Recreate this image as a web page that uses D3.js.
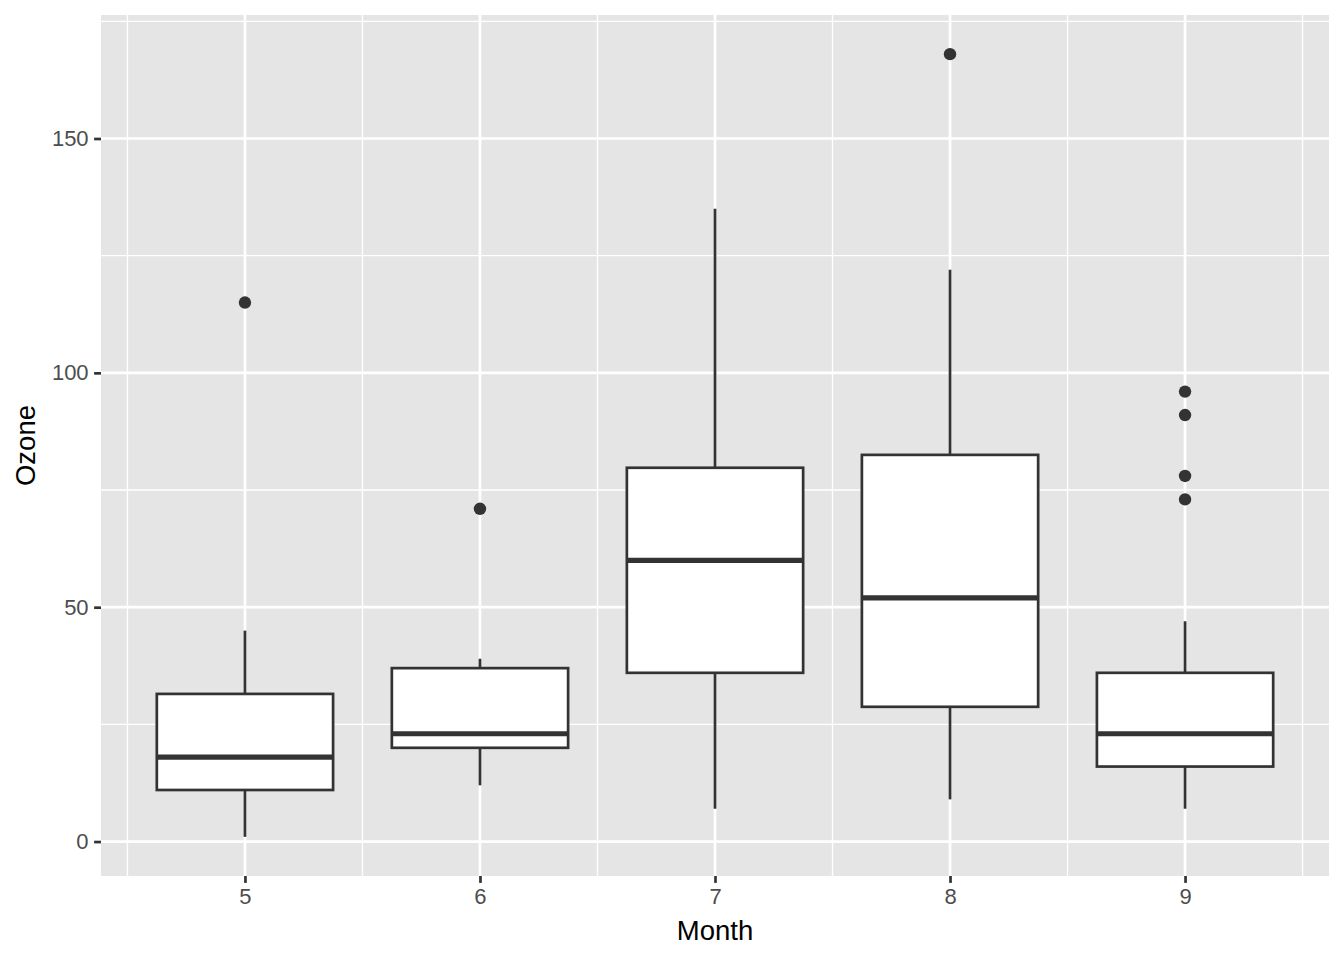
<!DOCTYPE html>
<html><head><meta charset="utf-8">
<script src="https://cdn.jsdelivr.net/npm/d3@7"></script>
<style>body{margin:0;background:#fff}svg{display:block}text{font-family:"Liberation Sans",Arial,Helvetica,sans-serif}</style>
</head><body>
<svg id="c" width="1344" height="960"></svg>
<script>
const months = [5, 6, 7, 8, 9];
const lowerWhisker = [1, 12, 7, 9, 7];
const q1 = [11, 20, 36, 28.75, 16];
const medians = [18, 23, 60, 52, 23];
const q3 = [31.5, 37, 79.75, 82.5, 36];
const upperWhisker = [45, 39, 135, 122, 47];
const outliers = [[115], [71], [], [168], [96, 91, 78, 73]];
const yTicks = [0, 50, 100, 150];
const yMinor = [25, 75, 125, 175];
const xMinor = [4.5, 5.5, 6.5, 7.5, 8.5, 9.5];

const svg = d3.select("#c");
const L = 101, R = 1329, T = 15, B = 876;
const allY = lowerWhisker.concat(upperWhisker, outliers.flat());
const yMin = d3.min(allY), yMax = d3.max(allY);
const yPad = (yMax - yMin) * 0.05;
const boxW = 0.75;
const xLo = d3.min(months) - boxW / 2, xHi = d3.max(months) + boxW / 2;
const xPad = (xHi - xLo) * 0.05;
const x = d3.scaleLinear().domain([xLo - xPad, xHi + xPad]).range([L, R]);
const y = d3.scaleLinear().domain([yMin - yPad, yMax + yPad]).range([B, T]);

svg.append("rect").attr("x", L).attr("y", T).attr("width", R - L).attr("height", B - T).attr("fill", "#EBEBEB").attr("fill", "#E5E5E5");
const g = svg.append("g");
g.selectAll(".ymin").data(yMinor).join("line").attr("x1", L).attr("x2", R)
  .attr("y1", d => y(d)).attr("y2", d => y(d)).attr("stroke", "#fff").attr("stroke-width", 1.35);
g.selectAll(".xmin").data(xMinor).join("line").attr("y1", T).attr("y2", B)
  .attr("x1", d => x(d)).attr("x2", d => x(d)).attr("stroke", "#fff").attr("stroke-width", 1.35);
g.selectAll(".ymaj").data(yTicks).join("line").attr("x1", L).attr("x2", R)
  .attr("y1", d => y(d)).attr("y2", d => y(d)).attr("stroke", "#fff").attr("stroke-width", 2.7);
g.selectAll(".xmaj").data(months).join("line").attr("y1", T).attr("y2", B)
  .attr("x1", d => x(d)).attr("x2", d => x(d)).attr("stroke", "#fff").attr("stroke-width", 2.7);

const col = "#333333";
const data = months.map((m, i) => ({m, lo: lowerWhisker[i], q1: q1[i], med: medians[i], q3: q3[i], hi: upperWhisker[i], out: outliers[i]}));
const bx = svg.append("g");
const hw = x(boxW / 2) - x(0);
data.forEach(d => {
  bx.append("line").attr("x1", x(d.m)).attr("x2", x(d.m)).attr("y1", y(d.q3)).attr("y2", y(d.hi)).attr("stroke", col).attr("stroke-width", 2.7);
  bx.append("line").attr("x1", x(d.m)).attr("x2", x(d.m)).attr("y1", y(d.q1)).attr("y2", y(d.lo)).attr("stroke", col).attr("stroke-width", 2.7);
  bx.append("rect").attr("x", x(d.m) - hw).attr("width", 2 * hw).attr("y", y(d.q3)).attr("height", y(d.q1) - y(d.q3))
    .attr("fill", "#fff").attr("stroke", col).attr("stroke-width", 2.7);
  bx.append("line").attr("x1", x(d.m) - hw).attr("x2", x(d.m) + hw).attr("y1", y(d.med)).attr("y2", y(d.med)).attr("stroke", col).attr("stroke-width", 5.2);
  bx.selectAll(null).data(d.out).join("circle").attr("cx", x(d.m)).attr("cy", v => y(v)).attr("r", 6.2).attr("fill", col);
});

// axes
const ya = svg.append("g").attr("transform", `translate(${L},0)`)
  .call(d3.axisLeft(y).tickValues(yTicks).tickSize(6.9).tickPadding(5.5).tickFormat(d3.format("d")));
const xa = svg.append("g").attr("transform", `translate(0,${B})`)
  .call(d3.axisBottom(x).tickValues(months).tickSize(6.9).tickPadding(5.5).tickFormat(d3.format("d")));
[ya, xa].forEach(a => {
  a.select(".domain").remove();
  a.selectAll(".tick line").attr("stroke", col).attr("stroke-width", 2.7);
  a.selectAll(".tick text").attr("fill", "#4D4D4D").style("font-size", "22px");
});
svg.append("text").attr("x", (L + R) / 2).attr("y", 940).attr("text-anchor", "middle")
  .style("font-size", "27.5px").attr("fill", "#000").text("Month");
svg.append("text").attr("transform", `translate(35,${(T + B) / 2}) rotate(-90)`).attr("text-anchor", "middle")
  .style("font-size", "27.5px").attr("fill", "#000").text("Ozone");
</script>
</body></html>
